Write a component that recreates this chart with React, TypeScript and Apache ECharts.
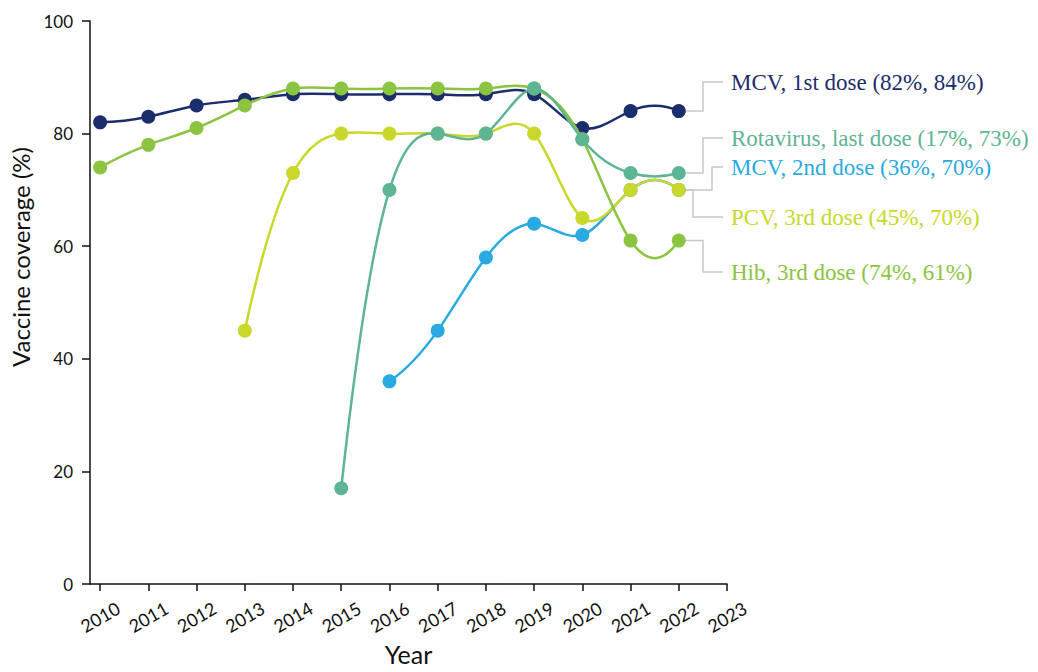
import React, { useEffect, useRef } from 'react';
import * as echarts from 'echarts';

const tickYears = [2010, 2011, 2012, 2013, 2014, 2015, 2016, 2017, 2018, 2019, 2020, 2021, 2022, 2023];

const mcv1Years = [2010, 2011, 2012, 2013, 2014, 2015, 2016, 2017, 2018, 2019, 2020, 2021, 2022];
const mcv1Values = [82, 83, 85, 86, 87, 87, 87, 87, 87, 87, 81, 84, 84];

const mcv2Years = [2016, 2017, 2018, 2019, 2020, 2021, 2022];
const mcv2Values = [36, 45, 58, 64, 62, 70, 70];

const pcvYears = [2013, 2014, 2015, 2016, 2017, 2018, 2019, 2020, 2021, 2022];
const pcvValues = [45, 73, 80, 80, 80, 80, 80, 65, 70, 70];

const hibYears = [2010, 2011, 2012, 2013, 2014, 2015, 2016, 2017, 2018, 2019, 2020, 2021, 2022];
const hibValues = [74, 78, 81, 85, 88, 88, 88, 88, 88, 88, 79, 61, 61];

const rotaYears = [2015, 2016, 2017, 2018, 2019, 2020, 2021, 2022];
const rotaValues = [17, 70, 80, 80, 88, 79, 73, 73];

const seriesNames = ['MCV, 1st dose', 'MCV, 2nd dose', 'PCV, 3rd dose', 'Hib, 3rd dose', 'Rotavirus, last dose'];
const seriesColors = ['#1c2d6b', '#29aae1', '#c9d82b', '#8bc441', '#5db593'];
const seriesYears = [mcv1Years, mcv2Years, pcvYears, hibYears, rotaYears];
const seriesValues = [mcv1Values, mcv2Values, pcvValues, hibValues, rotaValues];
const labelTexts = [
  'MCV, 1st dose (82%, 84%)',
  'MCV, 2nd dose (36%, 70%)',
  'PCV, 3rd dose (45%, 70%)',
  'Hib, 3rd dose (74%, 61%)',
  'Rotavirus, last dose (17%, 73%)',
];
// layout of the right-hand labels (pixels)
const labelTextY = [82, 167, 217, 272, 138];
const labelElbowX = [703, 712, 693, 703, 703];

// cubic spline (uniform parameter) with parabolic run-out ends: returns second derivatives
function splineM(y: number[]): number[] {
  const n = y.length - 1;
  const M = new Array(n + 1).fill(0);
  if (n < 2) return M;
  const k = n - 1; // unknowns M1..M_{n-1}
  const a: number[] = [], b: number[] = [], c: number[] = [], d: number[] = [];
  for (let i = 1; i <= n - 1; i++) {
    a.push(1); b.push(4); c.push(1);
    d.push(6 * (y[i + 1] - 2 * y[i] + y[i - 1]));
  }
  b[0] += 1; // M0 = M1
  b[k - 1] += 1; // Mn = M(n-1)
  if (k === 1) b[0] = 6;
  for (let i = 1; i < k; i++) {
    const m = a[i] / b[i - 1];
    b[i] -= m * c[i - 1];
    d[i] -= m * d[i - 1];
  }
  const sol = new Array(k);
  sol[k - 1] = d[k - 1] / b[k - 1];
  for (let i = k - 2; i >= 0; i--) sol[i] = (d[i] - c[i] * sol[i + 1]) / b[i];
  for (let i = 1; i <= n - 1; i++) M[i] = sol[i - 1];
  M[0] = M[1];
  M[n] = M[n - 1];
  return M;
}

export default function App() {
  const ref = useRef<HTMLDivElement>(null);
  useEffect(() => {
    const chart = echarts.init(ref.current!, null, { renderer: 'svg' });
    const series = seriesNames.map((name, k) => ({
      type: 'custom',
      name,
      data: seriesYears[k].map((y, i) => [y, seriesValues[k][i]]),
      encode: { x: 0, y: 1 },
      clip: false,
      renderItem: (params: any, api: any) => {
        const n = params.dataInsideLength;
        const i = params.dataIndexInside;
        const pts: number[][] = [];
        for (let j = 0; j < n; j++) pts.push(api.coord([api.value(0, j), api.value(1, j)]));
        const color = seriesColors[k];
        const children: any[] = [];
        if (i < n - 1) {
          const ys = pts.map((p) => p[1]);
          const M = splineM(ys);
          const dy = ys[i + 1] - ys[i];
          const s0 = dy - (2 * M[i] + M[i + 1]) / 6;
          const s1 = dy + (M[i] + 2 * M[i + 1]) / 6;
          const dx = pts[i + 1][0] - pts[i][0];
          children.push({
            type: 'bezierCurve',
            shape: {
              x1: pts[i][0], y1: pts[i][1], x2: pts[i + 1][0], y2: pts[i + 1][1],
              cpx1: pts[i][0] + dx / 3, cpy1: pts[i][1] + s0 / 3,
              cpx2: pts[i + 1][0] - dx / 3, cpy2: pts[i + 1][1] - s1 / 3,
            },
            style: { stroke: color, lineWidth: 2.5, fill: null },
          });
        }
        children.push({
          type: 'circle',
          shape: { cx: pts[i][0], cy: pts[i][1], r: 7 },
          style: { fill: color, stroke: null },
        });
        return { type: 'group', children };
      },
    }));
    const axisFont = 'Lato, "Open Sans", sans-serif';
    chart.setOption({
      animation: false,
      backgroundColor: '#ffffff',
      grid: { left: 90, right: 311, top: 21, bottom: 88, containLabel: false },
      xAxis: {
        type: 'value',
        min: 2009.79,
        max: 2023,
        name: 'Year',
        nameLocation: 'middle',
        nameGap: 56,
        nameTextStyle: { fontSize: 25, color: '#111', fontFamily: axisFont },
        axisLine: { show: true, lineStyle: { color: '#111', width: 1.5 } },
        axisTick: { show: true, length: 7, customValues: tickYears, lineStyle: { color: '#111', width: 1.5 } },
        axisLabel: {
          customValues: tickYears,
          rotate: 30,
          align: 'center',
          verticalAlign: 'middle',
          fontSize: 18,
          color: '#111',
          fontFamily: axisFont,
          margin: 33,
          formatter: (v: number) => String(v),
        },
        splitLine: { show: false },
      },
      yAxis: {
        type: 'value',
        min: 0,
        max: 100,
        interval: 20,
        axisLine: { show: true, lineStyle: { color: '#111', width: 1.5 } },
        axisTick: { show: true, length: 8, lineStyle: { color: '#111', width: 1.5 } },
        axisLabel: { fontSize: 17, color: '#111', fontFamily: axisFont, margin: 17 },
        splitLine: { show: false },
      },
      series,
    });

    const graphics: any[] = [
      {
        type: 'text',
        x: 20,
        y: 257,
        rotation: Math.PI / 2,
        style: {
          text: 'Vaccine coverage (%)',
          fill: '#111',
          font: '24px Lato, "Open Sans", sans-serif',
          align: 'center',
          verticalAlign: 'middle',
        },
      },
    ];
    seriesNames.forEach((_, k) => {
      const yrs = seriesYears[k];
      const vals = seriesValues[k];
      const p = chart.convertToPixel({ gridIndex: 0 }, [yrs[yrs.length - 1], vals[vals.length - 1]]) as number[];
      const ty = labelTextY[k];
      const ex = labelElbowX[k];
      graphics.push({
        type: 'polyline',
        shape: { points: [[p[0] + 7, p[1]], [ex, p[1]], [ex, ty], [723, ty]] },
        style: { stroke: '#c8c8c8', lineWidth: 1.5, fill: null },
        z: 1,
      });
      graphics.push({
        type: 'text',
        x: 731,
        y: ty,
        style: {
          text: labelTexts[k],
          fill: seriesColors[k],
          font: '23px "Liberation Serif", "Times New Roman", serif',
          verticalAlign: 'middle',
        },
      });
    });
    chart.setOption({ graphic: graphics });
    return () => chart.dispose();
  }, []);
  return <div ref={ref} style={{ position: 'absolute', left: 0, top: 0, width: 1038, height: 672 }} />;
}
